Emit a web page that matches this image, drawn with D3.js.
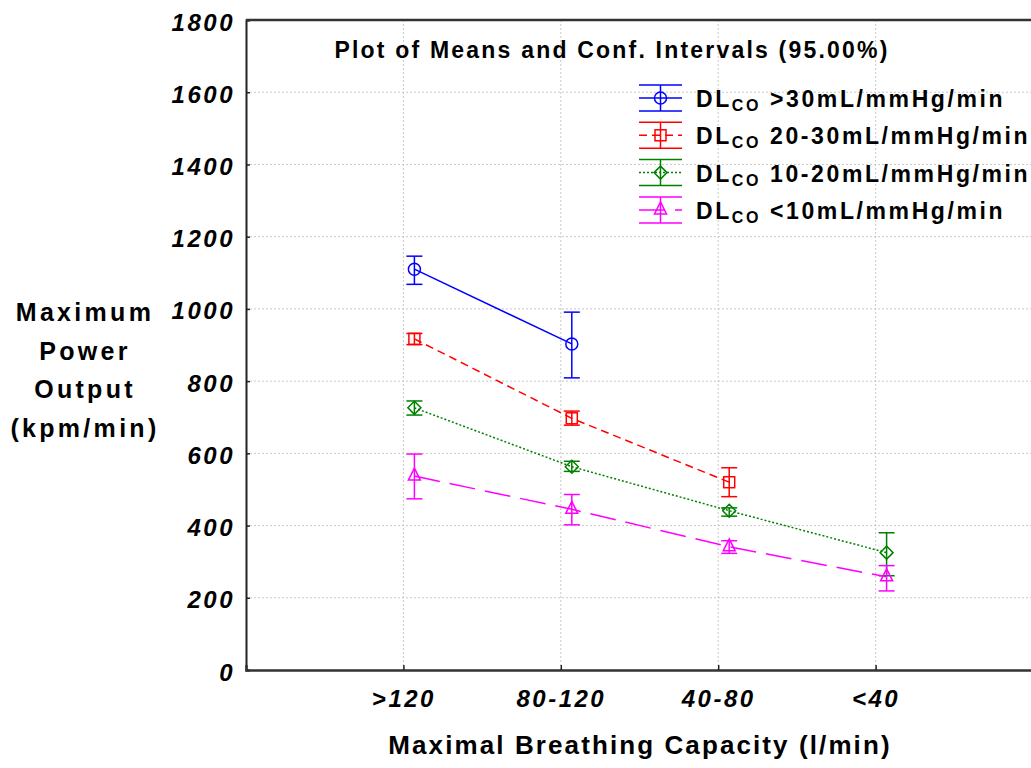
<!DOCTYPE html>
<html>
<head>
<meta charset="utf-8">
<script src="https://cdn.jsdelivr.net/npm/d3@7"></script>
<style>
  body { margin: 0; background: #fff; }
  text { font-family: 'Liberation Sans', Arial, sans-serif; font-weight: bold; }
</style>
</head>
<body>
<div id="chart"></div>
<script>
const categories = ['>120', '80-120', '40-80', '<40']
const yTicks = [0, 200, 400, 600, 800, 1000, 1200, 1400, 1600, 1800]

const seriesNames = ['>30mL/mmHg/min', '20-30mL/mmHg/min', '10-20mL/mmHg/min', '<10mL/mmHg/min']
const seriesMeans = [
  [1110, 903, null, null],
  [917, 697, 520, null],
  [726, 563, 441, 325],
  [537, 445, 341, 258]
]
const seriesLow = [
  [1068, 809, null, null],
  [901, 678, 480, null],
  [706, 550, 426, 261],
  [474, 402, 323, 219]
]
const seriesHigh = [
  [1146, 991, null, null],
  [932, 717, 560, null],
  [745, 578, 449, 380],
  [598, 486, 358, 289]
]
const colors = ['#0000ff', '#ff0000', '#008000', '#ff00ff']
const dashes = [null, '8,5', '2,2', '26,10']
const markers = ['circle', 'square', 'diamond', 'triangle']

const width = 1031
const height = 768
const margin = { top: 20, left: 246, bottom: 98 }

const svg = d3
  .select('#chart')
  .append('svg')
  .attr('width', width)
  .attr('height', height)

const x = d3.scaleLinear().domain([0, 5]).range([margin.left, 1033])
const y = d3.scaleLinear().domain([0, 1800]).range([height - margin.bottom, margin.top])
const offset = 11 // points sit a little right of the tick

// grid
svg
  .append('g')
  .selectAll('line')
  .data(yTicks.slice(1))
  .enter()
  .append('line')
  .attr('x1', x(0))
  .attr('x2', x(5))
  .attr('y1', d => y(d))
  .attr('y2', d => y(d))
  .attr('stroke', '#c8c8c8')
  .attr('stroke-dasharray', '2,2')

svg
  .append('g')
  .selectAll('line')
  .data(categories)
  .enter()
  .append('line')
  .attr('x1', (d, i) => x(i + 1))
  .attr('x2', (d, i) => x(i + 1))
  .attr('y1', y(0))
  .attr('y2', y(1800))
  .attr('stroke', '#c8c8c8')
  .attr('stroke-dasharray', '2,2')

// axes
const yAxis = d3.axisLeft(y).tickValues(yTicks).tickSize(-4).tickPadding(11).tickFormat(d3.format('d'))
const gy = svg.append('g').attr('transform', 'translate(' + x(0) + ',0)').call(yAxis)
gy.select('.domain').attr('stroke', '#222').attr('stroke-width', 2)
gy.selectAll('.tick line').attr('stroke', '#222').attr('stroke-width', 1.5)
gy.selectAll('.tick text')
  .style('font-size', '24px')
  .style('font-style', 'italic')
  .style('letter-spacing', '2.5px')
  .attr('fill', '#000')
  .attr('dy', '0.42em')

const xAxis = d3
  .axisBottom(x)
  .tickValues([1, 2, 3, 4])
  .tickSize(-5)
  .tickPadding(20)
  .tickFormat(d => categories[d - 1])
const gx = svg.append('g').attr('transform', 'translate(0,' + y(0) + ')').call(xAxis)
gx.select('.domain').attr('stroke', '#333').attr('stroke-width', 2.5)
gx.selectAll('.tick line').attr('stroke', '#222').attr('stroke-width', 1.5)
gx.selectAll('.tick text')
  .style('font-size', '24px')
  .style('font-style', 'italic')
  .style('letter-spacing', '2.5px')
  .attr('fill', '#000')

svg
  .append('line')
  .attr('x1', x(0))
  .attr('x2', width)
  .attr('y1', y(1800))
  .attr('y2', y(1800))
  .attr('stroke', '#333')
  .attr('stroke-width', 2.5)

// marker drawing
function drawMarker(g, type, cx, cy, color) {
  if (type === 'circle') {
    g.append('circle').attr('cx', cx).attr('cy', cy).attr('r', 6)
      .attr('fill', 'none').attr('stroke', color).attr('stroke-width', 1.5)
  } else if (type === 'square') {
    g.append('rect').attr('x', cx - 5.5).attr('y', cy - 5.5).attr('width', 11).attr('height', 11)
      .attr('fill', 'none').attr('stroke', color).attr('stroke-width', 1.5)
  } else if (type === 'diamond') {
    g.append('path')
      .attr('d', 'M' + cx + ',' + (cy - 6.5) + 'L' + (cx + 6.5) + ',' + cy + 'L' + cx + ',' + (cy + 6.5) + 'L' + (cx - 6.5) + ',' + cy + 'Z')
      .attr('fill', 'none').attr('stroke', color).attr('stroke-width', 1.5)
  } else {
    g.append('path')
      .attr('d', 'M' + cx + ',' + (cy - 8) + 'L' + (cx + 6) + ',' + (cy + 4) + 'L' + (cx - 6) + ',' + (cy + 4) + 'Z')
      .attr('fill', 'none').attr('stroke', color).attr('stroke-width', 1.5)
  }
}

// series
seriesMeans.forEach(function(means, s) {
  const g = svg.append('g')
  const pts = means
    .map((m, i) => ({ i: i, m: m, lo: seriesLow[s][i], hi: seriesHigh[s][i] }))
    .filter(d => d.m !== null)

  const line = d3.line().x(d => x(d.i + 1) + offset).y(d => y(d.m))
  g.append('path')
    .attr('d', line(pts))
    .attr('fill', 'none')
    .attr('stroke', colors[s])
    .attr('stroke-width', 1.5)
    .attr('stroke-dasharray', dashes[s])

  pts.forEach(function(d) {
    const cx = x(d.i + 1) + offset
    g.append('line').attr('x1', cx).attr('x2', cx).attr('y1', y(d.lo)).attr('y2', y(d.hi))
      .attr('stroke', colors[s]).attr('stroke-width', 1.5)
    ;[d.lo, d.hi].forEach(v => {
      g.append('line').attr('x1', cx - 8).attr('x2', cx + 8).attr('y1', y(v)).attr('y2', y(v))
        .attr('stroke', colors[s]).attr('stroke-width', 1.5)
    })
    drawMarker(g, markers[s], cx, y(d.m), colors[s])
  })
})

// title
svg
  .append('text')
  .attr('x', 612)
  .attr('y', 58)
  .attr('text-anchor', 'middle')
  .style('font-size', '23px')
  .style('letter-spacing', '2.2px')
  .text('Plot of Means and Conf. Intervals (95.00%)')

// legend
const legend = svg.append('g').attr('transform', 'translate(639,98)')
seriesNames.forEach(function(name, s) {
  const row = legend.append('g').attr('transform', 'translate(0,' + s * 37.3 + ')')
  ;[-13, 13].forEach(dy => {
    row.append('line').attr('x1', 0).attr('x2', 43).attr('y1', dy).attr('y2', dy)
      .attr('stroke', colors[s]).attr('stroke-width', 1.5)
  })
  row.append('line').attr('x1', 21.5).attr('x2', 21.5).attr('y1', -13).attr('y2', 13)
    .attr('stroke', colors[s]).attr('stroke-width', 1.5)
  row.append('line').attr('x1', 0).attr('x2', 43).attr('y1', 0).attr('y2', 0)
    .attr('stroke', colors[s]).attr('stroke-width', 1.5)
    .attr('stroke-dasharray', dashes[s])
  drawMarker(row, markers[s], 21.5, 0, colors[s])
  const t = row.append('text').attr('x', 57).attr('y', 9).style('font-size', '23px').style('letter-spacing', '2.6px')
  t.append('tspan').text('DL')
  t.append('tspan').attr('dy', 4).style('font-size', '16px').text('CO')
  t.append('tspan').attr('dy', -4).text(' ' + name)
})

// axis titles
const yTitle = ['Maximum', 'Power', 'Output', '(kpm/min)']
svg
  .append('g')
  .selectAll('text')
  .data(yTitle)
  .enter()
  .append('text')
  .attr('x', 85)
  .attr('y', (d, i) => 321 + i * 38.5)
  .attr('text-anchor', 'middle')
  .style('font-size', '25px')
  .style('letter-spacing', '3.3px')
  .text(d => d)

svg
  .append('text')
  .attr('x', 640)
  .attr('y', 754)
  .attr('text-anchor', 'middle')
  .style('font-size', '26px')
  .style('letter-spacing', '2.1px')
  .text('Maximal Breathing Capacity (l/min)')
</script>
</body>
</html>
